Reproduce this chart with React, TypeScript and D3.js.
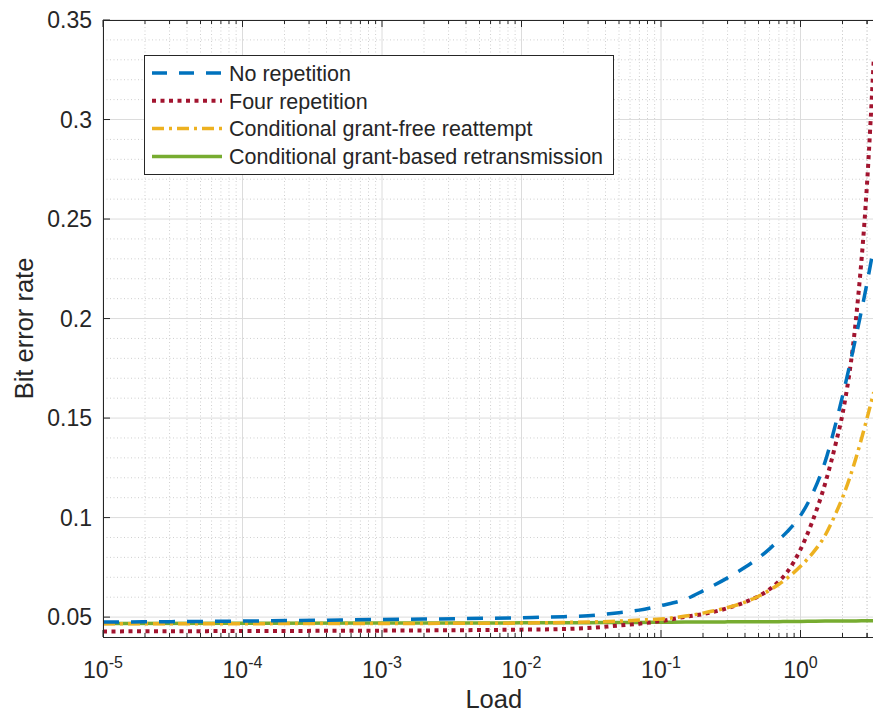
import React, { useRef, useEffect } from 'react'
import * as d3 from 'd3'

// load values (x) shared by all series
const loads = [1e-5, 1e-4, 1e-3, 1e-2, 0.02, 0.03, 0.05, 0.07, 0.1, 0.15, 0.2, 0.3, 0.4, 0.5, 0.6, 0.7, 0.8, 1, 1.2, 1.5, 1.8, 2, 2.5, 3, 3.35]

const noRepetition = [0.0475, 0.048, 0.0488, 0.0497, 0.0502, 0.0507, 0.0522, 0.0535, 0.0558, 0.059, 0.0632, 0.0697, 0.075, 0.0797, 0.0843, 0.0888, 0.0928, 0.101, 0.111, 0.128, 0.148, 0.161, 0.191, 0.218, 0.236]
const fourRepetition = [0.0428, 0.043, 0.0432, 0.0437, 0.044, 0.0445, 0.0458, 0.0467, 0.048, 0.0502, 0.0515, 0.0545, 0.0575, 0.0605, 0.064, 0.068, 0.0725, 0.084, 0.097, 0.117, 0.138, 0.152, 0.2, 0.268, 0.33]
const grantFree = [0.0466, 0.0467, 0.0468, 0.047, 0.0473, 0.0475, 0.048, 0.0485, 0.049, 0.0505, 0.052, 0.0548, 0.0575, 0.0605, 0.0635, 0.0665, 0.0695, 0.0755, 0.0815, 0.091, 0.1025, 0.11, 0.13, 0.15, 0.163]
const grantBased = [0.0468, 0.0469, 0.047, 0.0471, 0.0472, 0.0472, 0.0473, 0.0473, 0.0474, 0.0475, 0.0475, 0.0476, 0.0476, 0.0477, 0.0477, 0.0477, 0.0478, 0.0478, 0.0479, 0.048, 0.048, 0.0481, 0.0481, 0.0482, 0.0482]

const seriesNames = ['No repetition', 'Four repetition', 'Conditional grant-free reattempt', 'Conditional grant-based retransmission']
const seriesColors = ['#0072BD', '#A2142F', '#EDB120', '#77AC30']
const seriesDash = ['16 12', '4 4.5', '12 5 3 5', null]

const yTicks = [0.05, 0.1, 0.15, 0.2, 0.25, 0.3, 0.35]
const xTicks = [1e-5, 1e-4, 1e-3, 1e-2, 1e-1, 1]
const xExponents = ['-5', '-4', '-3', '-2', '-1', '0']

function App() {
  const svgRef = useRef(null)

  useEffect(() => {
    const width = 873
    const height = 715
    const left = 103, top = 20, bottom = 637
    const right = 884.5
    const font = 'Liberation Sans, Arial, Helvetica, sans-serif'
    const txt = '#262626'

    const svg = d3.select(svgRef.current)
    svg.selectAll('*').remove()
    svg.attr('width', width).attr('height', height).style('display', 'block')
      .style('position', 'absolute').style('left', 0).style('top', 0)

    svg.append('rect').attr('width', width).attr('height', height).attr('fill', '#fff')

    const x = d3.scaleLog().domain([1e-5, 4]).range([left, right])
    const y = d3.scaleLinear().domain([0.04, 0.35]).range([bottom, top])

    svg.append('defs').append('clipPath').attr('id', 'plotclip')
      .append('rect').attr('x', left).attr('y', top).attr('width', right - left).attr('height', bottom - top)

    // minor grid
    const xMinor = []
    for (let e = -5; e <= 0; e++) {
      for (let m = 2; m <= 9; m++) {
        const v = m * Math.pow(10, e)
        if (v < 4) xMinor.push(v)
      }
    }
    xMinor.push(2, 3)
    const yMinor = d3.range(41, 351).map(d => d / 1000).filter(d => Math.round(d * 1000) % 10 === 0 && !yTicks.some(t => Math.abs(t - d) < 1e-9))

    const grid = svg.append('g')
    grid.selectAll('.xm').data(xMinor).join('line')
      .attr('x1', d => x(d)).attr('x2', d => x(d)).attr('y1', top).attr('y2', bottom)
      .attr('stroke', '#cfcfcf').attr('stroke-width', 1).attr('stroke-dasharray', '1 2.5')
    grid.selectAll('.ym').data(yMinor).join('line')
      .attr('x1', left).attr('x2', right).attr('y1', d => y(d)).attr('y2', d => y(d))
      .attr('stroke', '#cfcfcf').attr('stroke-width', 1).attr('stroke-dasharray', '1 2.5')
    // major grid
    grid.selectAll('.xM').data(xTicks).join('line')
      .attr('x1', d => x(d)).attr('x2', d => x(d)).attr('y1', top).attr('y2', bottom)
      .attr('stroke', '#dcdcdc').attr('stroke-width', 1)
    grid.selectAll('.yM').data(yTicks).join('line')
      .attr('x1', left).attr('x2', right).attr('y1', d => y(d)).attr('y2', d => y(d))
      .attr('stroke', '#dcdcdc').attr('stroke-width', 1)

    // lines
    const all = [noRepetition, fourRepetition, grantFree, grantBased]
    const line = d3.line()
      .x((d, i) => x(loads[i]))
      .y(d => y(d))
      .curve(d3.curveMonotoneX)
    const lines = svg.append('g').attr('clip-path', 'url(#plotclip)')
    // draw green first, then red, yellow, blue on top
    ;[3, 1, 2, 0].forEach(k => {
      const p = lines.append('path')
        .attr('d', line(all[k]))
        .attr('fill', 'none')
        .attr('stroke', seriesColors[k])
        .attr('stroke-width', k === 1 ? 4 : 3.5)
      if (seriesDash[k]) p.attr('stroke-dasharray', seriesDash[k])
    })

    // axes box + ticks
    const ax = svg.append('g').attr('stroke', txt).attr('stroke-width', 1)
    ax.append('line').attr('x1', left).attr('x2', right).attr('y1', top + 0.5).attr('y2', top + 0.5)
    ax.append('line').attr('x1', left).attr('x2', right).attr('y1', bottom + 0.5).attr('y2', bottom + 0.5)
    ax.append('line').attr('x1', left + 0.5).attr('x2', left + 0.5).attr('y1', top).attr('y2', bottom)
    ax.append('line').attr('x1', right - 0.5).attr('x2', right - 0.5).attr('y1', top).attr('y2', bottom)

    xTicks.forEach(t => {
      ax.append('line').attr('x1', x(t)).attr('x2', x(t)).attr('y1', bottom).attr('y2', bottom - 7)
      ax.append('line').attr('x1', x(t)).attr('x2', x(t)).attr('y1', top).attr('y2', top + 7)
    })
    xMinor.forEach(t => {
      ax.append('line').attr('x1', x(t)).attr('x2', x(t)).attr('y1', bottom).attr('y2', bottom - 4)
      ax.append('line').attr('x1', x(t)).attr('x2', x(t)).attr('y1', top).attr('y2', top + 4)
    })
    yTicks.forEach(t => {
      ax.append('line').attr('x1', left).attr('x2', left + 7).attr('y1', y(t)).attr('y2', y(t))
    })

    // y tick labels
    svg.append('g').selectAll('text').data(yTicks).join('text')
      .attr('x', 92).attr('y', d => y(d)).attr('dy', '0.36em')
      .attr('text-anchor', 'end').attr('font-family', font).attr('font-size', 23).attr('fill', txt)
      .text(d => String(d))

    // x tick labels with exponent
    xTicks.forEach((t, i) => {
      const tx = svg.append('text')
        .attr('x', x(t)).attr('y', 678)
        .attr('text-anchor', 'middle').attr('font-family', font).attr('font-size', 23).attr('fill', txt)
      tx.append('tspan').text('10')
      tx.append('tspan').attr('dy', -10).attr('font-size', 16).text(xExponents[i])
    })

    // axis titles
    svg.append('text').attr('x', (left + right) / 2).attr('y', 708)
      .attr('text-anchor', 'middle').attr('font-family', font).attr('font-size', 25.5).attr('fill', txt)
      .text('Load')
    svg.append('text').attr('transform', `translate(33,${(top + bottom) / 2}) rotate(-90)`)
      .attr('text-anchor', 'middle').attr('font-family', font).attr('font-size', 25.5).attr('fill', txt)
      .text('Bit error rate')

    // legend
    const lg = svg.append('g')
    lg.append('rect').attr('x', 144.5).attr('y', 55.5).attr('width', 469).attr('height', 119)
      .attr('fill', '#fff').attr('stroke', txt).attr('stroke-width', 1)
    seriesNames.forEach((name, k) => {
      const ly = 73 + k * 27.8
      const l = lg.append('line').attr('x1', 152).attr('x2', 222).attr('y1', ly).attr('y2', ly)
        .attr('stroke', seriesColors[k]).attr('stroke-width', k === 1 ? 4 : 3.5)
      if (seriesDash[k]) l.attr('stroke-dasharray', k === 0 ? '15 12' : seriesDash[k])
      lg.append('text').attr('x', 229).attr('y', ly).attr('dy', '0.36em')
        .attr('font-family', font).attr('font-size', 21.5).attr('fill', txt).text(name)
    })
  }, [])

  return <svg ref={svgRef}></svg>
}

export default App
